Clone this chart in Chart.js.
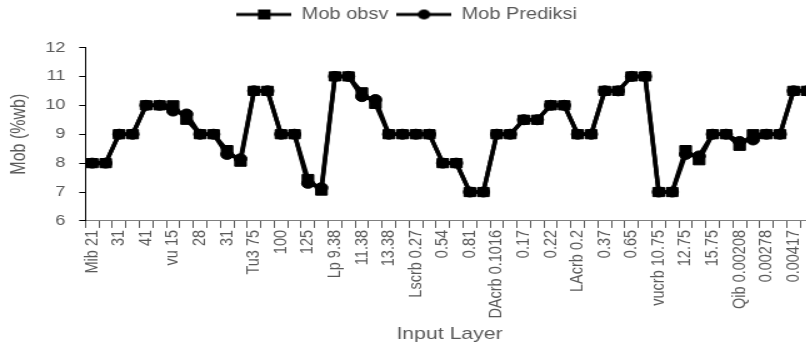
<!DOCTYPE html>
<html>
<head>
<meta charset="utf-8">
<script src="https://cdn.jsdelivr.net/npm/chart.js@4.4.1/dist/chart.umd.min.js"></script>
<style>
html, body { margin: 0; padding: 0; background: #fff; overflow: hidden; width: 806px; height: 345px; }
#c { display: block; transform: scaleX(1.25); transform-origin: 0 0; }
</style>
</head>
<body>
<canvas id="c" width="667" height="345"></canvas>
<script>
// 9 inputs x 6 levels, only every second level is labelled on the axis
const categories = [
	'Mib 21', '', '31', '', '41', '',
	'vu 15', '', '28', '', '31', '',
	'Tu3 75', '', '100', '', '125', '',
	'Lp 9.38', '', '11.38', '', '13.38', '',
	'Lscrb 0.27', '', '0.54', '', '0.81', '',
	'DAcrb 0.1016', '', '0.17', '', '0.22', '',
	'LAcrb 0.2', '', '0.37', '', '0.65', '',
	'vucrb 10.75', '', '12.75', '', '15.75', '',
	'Qib 0.00208', '', '0.00278', '', '0.00417', ''
];

const mobObsv = [
	8, 8, 9, 9, 10, 10,
	10, 9.5, 9, 9, 8.45, 8.05,
	10.5, 10.5, 9, 9, 7.45, 7.05,
	11, 11, 10.45, 10.05, 9, 9,
	9, 9, 8, 8, 7, 7,
	9, 9, 9.5, 9.5, 10, 10,
	9, 9, 10.5, 10.5, 11, 11,
	7, 7, 8.45, 8.1, 9, 9,
	8.6, 9, 9, 9, 10.5, 10.5
];

const mobPrediksi = [
	8, 8, 9, 9, 10, 10,
	9.8, 9.7, 9, 9, 8.3, 8.15,
	10.5, 10.5, 9, 9, 7.3, 7.15,
	11, 11, 10.3, 10.2, 9, 9,
	9, 9, 8, 8, 7, 7,
	9, 9, 9.5, 9.5, 10, 10,
	9, 9, 10.5, 10.5, 11, 11,
	7, 7, 8.3, 8.25, 9, 9,
	8.75, 8.8, 9, 9, 10.5, 10.5
];

const textColor = '#595959';
Chart.defaults.font.family = "'Liberation Sans', Arial, sans-serif";
Chart.defaults.color = textColor;

// legend sample: line with the marker in the middle
function legendIcon(style) {
	const c = document.createElement('canvas');
	c.width = 44;
	c.height = 12;
	const g = c.getContext('2d');
	g.strokeStyle = '#000';
	g.fillStyle = '#000';
	g.lineWidth = 3;
	g.beginPath();
	g.moveTo(0, 6);
	g.lineTo(44, 6);
	g.stroke();
	if (style == 'rect') {
		g.fillRect(17, 1, 10, 10);
	} else {
		g.beginPath();
		g.arc(22, 6, 5, 0, Math.PI * 2);
		g.fill();
	}
	return c;
}
const legendIcons = [legendIcon('rect'), legendIcon('circle')];

// extra space under the legend
const legendGap = {
	id: 'legendGap',
	beforeInit(chart) {
		const fit = chart.legend.fit;
		chart.legend.fit = function () {
			fit.bind(chart.legend)();
			this.height += 15;
		};
	}
};

new Chart(document.getElementById('c'), {
	type: 'line',
	data: {
		labels: categories,
		datasets: [{
			label: 'Mob obsv',
			data: mobObsv,
			borderColor: '#000',
			backgroundColor: '#000',
			borderWidth: 3.5,
			pointStyle: 'rect',
			pointRadius: 6.5,
			pointBorderWidth: 1,
			tension: 0,
			clip: false
		}, {
			label: 'Mob Prediksi',
			data: mobPrediksi,
			borderColor: '#000',
			backgroundColor: '#000',
			borderWidth: 3.5,
			pointStyle: 'circle',
			pointRadius: 5,
			pointBorderWidth: 1,
			tension: 0,
			clip: false
		}]
	},
	plugins: [legendGap],
	options: {
		responsive: false,
		animation: false,
		layout: {
			padding: { left: 0, right: 16, top: 0, bottom: 0 }
		},
		plugins: {
			tooltip: { enabled: false },
			legend: {
				position: 'top',
				labels: {
					usePointStyle: true,
					pointStyleWidth: 44,
					padding: 6.5,
					color: textColor,
					font: { size: 16 },
					generateLabels: chart => Chart.defaults.plugins.legend.labels.generateLabels(chart).map((l, i) => ({ ...l, pointStyle: legendIcons[i] }))
				}
			}
		},
		scales: {
			x: {
				type: 'category',
				offset: true,
				grid: { offset: true, drawOnChartArea: false, tickLength: 7, color: '#595959' },
				border: { color: '#7f7f7f', width: 1 },
				ticks: { autoSkip: false, minRotation: 90, maxRotation: 90, padding: 2, color: textColor, font: { size: 14.5 } },
				title: { display: true, text: 'Input Layer', color: textColor, font: { size: 17 }, padding: { top: 4, bottom: 0 } }
			},
			y: {
				min: 6,
				max: 12,
				grid: { drawOnChartArea: false, tickLength: 5, color: '#000' },
				border: { color: '#000', width: 1 },
				ticks: { stepSize: 1, padding: 11, color: textColor, font: { size: 14.5 } },
				title: { display: true, text: 'Mob (%wb)', color: textColor, font: { size: 16 }, padding: { top: 6, bottom: 0 } }
			}
		}
	}
});
</script>
</body>
</html>
